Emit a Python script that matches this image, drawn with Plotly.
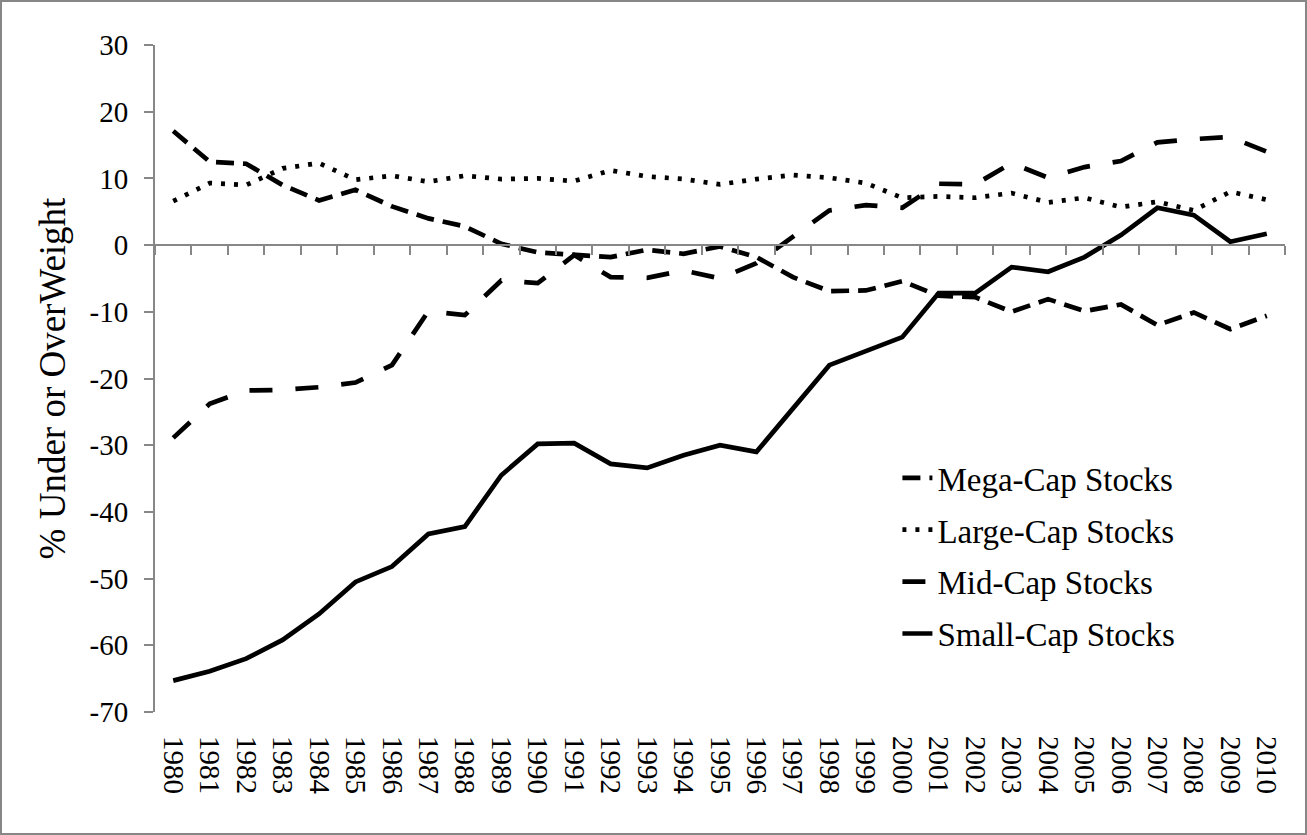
import plotly.graph_objects as go

years = ["1980", "1981", "1982", "1983", "1984", "1985", "1986", "1987",
         "1988", "1989", "1990", "1991", "1992", "1993", "1994", "1995",
         "1996", "1997", "1998", "1999", "2000", "2001", "2002", "2003",
         "2004", "2005", "2006", "2007", "2008", "2009", "2010"]

mega_cap = [17.1, 12.5, 12.2, 9.0, 6.7, 8.3, 5.8, 4.0, 2.8, 0.2,
            -1.1, -1.5, -1.8, -0.7, -1.3, -0.2, -1.8, -4.8, -6.9, -6.8,
            -5.4, -7.6, -7.8, -10.0, -8.1, -9.9, -8.9, -12.0, -10.1, -12.6,
            -10.6]
large_cap = [6.6, 9.3, 9.0, 11.5, 12.3, 9.8, 10.4, 9.5, 10.4, 9.9,
             10.0, 9.6, 11.2, 10.3, 9.9, 9.1, 9.9, 10.5, 10.1, 9.3,
             7.1, 7.3, 7.1, 7.8, 6.4, 7.1, 5.7, 6.5, 5.2, 8.0,
             6.8]
mid_cap = [-28.9, -23.8, -21.8, -21.7, -21.3, -20.6, -18.0, -9.9, -10.5, -5.3,
           -5.7, -1.5, -4.8, -4.9, -3.8, -5.0, -2.7, 1.2, 5.2, 6.0,
           5.6, 9.2, 9.1, 12.3, 10.1, 11.7, 12.6, 15.4, 15.9, 16.2,
           14.0]
small_cap = [-65.3, -63.9, -62.0, -59.2, -55.3, -50.5, -48.2, -43.3, -42.2, -34.5,
             -29.8, -29.7, -32.8, -33.4, -31.5, -30.0, -31.0, -24.5, -18.0, -15.9,
             -13.8, -7.2, -7.2, -3.3, -4.0, -1.8, 1.5, 5.6, 4.5, 0.5,
             1.7]

# y ticks with a plain hyphen, as in the original (plotly would use U+2212)
y_tick_vals = [30, 20, 10, 0, -10, -20, -30, -40, -50, -60, -70]
y_tick_text = ["30", "20", "10", "0", "-10", "-20", "-30", "-40", "-50", "-60", "-70"]

W, H = 1307, 835
ML, MR, MT, MB = 155, 22, 45, 123
FONT = "Liberation Serif, Times New Roman, serif"
AXIS_GREY = "#878787"

series = [
    ("Mega-Cap Stocks", mega_cap, "18px,9px"),
    ("Large-Cap Stocks", large_cap, "4px,9px"),
    ("Mid-Cap Stocks", mid_cap, "23px,23px"),
    ("Small-Cap Stocks", small_cap, "solid"),
]

fig = go.Figure()
for i, (name, vals, dash) in enumerate(series):
    fig.add_scatter(
        x=years, y=vals, name=name, mode="lines",
        line=dict(color="black", width=4.7, dash=dash),
        legendgroup=f"g{i}",
    )

# invisible copy so the zero-line axis (with the between-category ticks) gets drawn
fig.add_scatter(x=years, y=small_cap, xaxis="x2", mode="lines",
                line=dict(color="rgba(0,0,0,0)"), showlegend=False,
                hoverinfo="skip")

fig.update_layout(
    width=W, height=H,
    margin=dict(l=ML, r=MR, t=MT, b=MB),
    paper_bgcolor="white", plot_bgcolor="white",
    font=dict(family=FONT, color="black", size=29),
    showlegend=True,
    legend=dict(
        x=0.657, y=0.393, xanchor="left", yanchor="top",
        font=dict(family=FONT, size=33, color="black"),
        bgcolor="rgba(0,0,0,0)", traceorder="grouped", tracegroupgap=6,
    ),
    xaxis=dict(
        type="category", categoryarray=years, range=[-0.5, 30.5],
        showline=False, ticks="", showgrid=False, zeroline=False,
        tickangle=90, tickfont=dict(size=29), ticklabelstandoff=23,
    ),
    xaxis2=dict(
        type="category", categoryarray=years, range=[-0.5, 30.5],
        overlaying="x", anchor="free", position=0.7,
        showline=True, linecolor=AXIS_GREY, linewidth=2,
        ticks="outside", tickson="boundaries", ticklen=9,
        tickcolor=AXIS_GREY, tickwidth=2,
        showticklabels=False, showgrid=False, zeroline=False,
    ),
    yaxis=dict(
        range=[-70, 30], tickmode="array",
        tickvals=y_tick_vals, ticktext=y_tick_text,
        showgrid=False, zeroline=False,
        showline=True, linecolor=AXIS_GREY, linewidth=2,
        ticks="outside", ticklen=9, tickcolor=AXIS_GREY, tickwidth=2,
        tickfont=dict(size=29), ticklabelstandoff=10,
        title=dict(text="% Under or OverWeight", font=dict(size=37), standoff=13),
    ),
)

# thin grey frame round the whole chart
pw, ph = W - ML - MR, H - MT - MB
fig.add_shape(type="rect", xref="paper", yref="paper",
              x0=-(ML - 1) / pw, x1=1 + (MR - 1) / pw,
              y0=-(MB - 1) / ph, y1=1 + (MT - 1) / ph,
              line=dict(color=AXIS_GREY, width=2), layer="below")

# drop the browser's default 8px body margin so the chart sits at 0,0
fig.write_html("out.html", config={"displayModeBar": False},
               post_script="document.body.style.margin='0';")
